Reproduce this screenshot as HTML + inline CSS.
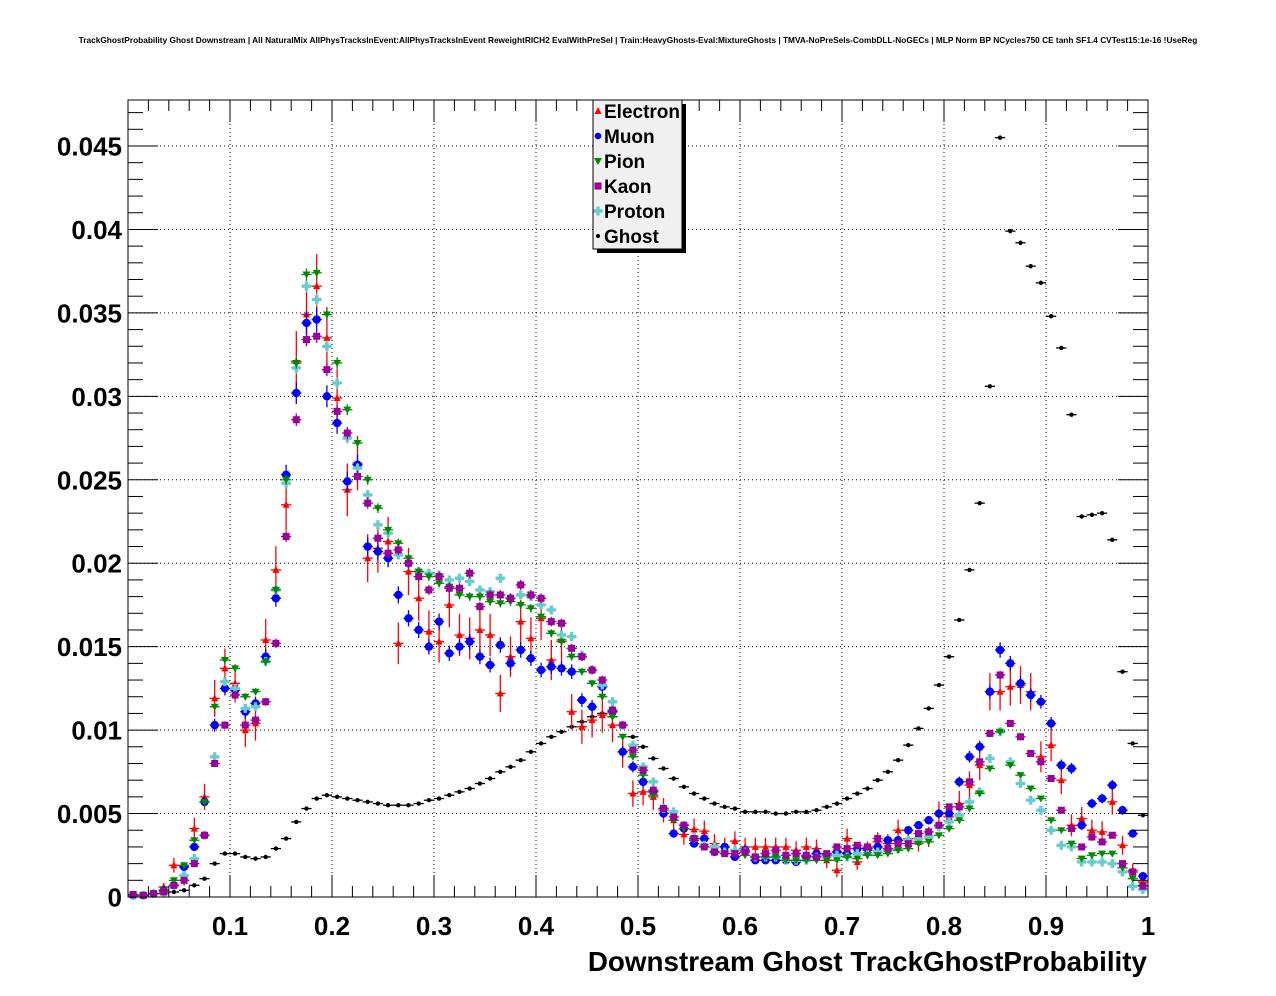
<!DOCTYPE html>
<html><head><meta charset="utf-8"><style>
body{margin:0;background:#fff;width:1276px;height:996px;overflow:hidden}
svg{display:block;font-family:"Liberation Sans",Arial,sans-serif}
</style></head><body>
<svg id="chart" width="1276" height="996" xmlns="http://www.w3.org/2000/svg">
<text x="638" y="43" font-size="8.3" font-weight="bold" text-anchor="middle">TrackGhostProbability Ghost Downstream | All NaturalMix AllPhysTracksInEvent:AllPhysTracksInEvent ReweightRICH2 EvalWithPreSel | Train:HeavyGhosts-Eval:MixtureGhosts | TMVA-NoPreSels-CombDLL-NoGECs | MLP Norm BP NCycles750 CE tanh SF1.4 CVTest15:1e-16 !UseReg</text>
<g id="grid"></g>
<g id="marks"></g>
<rect x="128" y="100" width="1020" height="797" fill="none" stroke="#000" stroke-width="1"/>
<g id="axes"></g>
<text x="1147" y="971" font-size="27.8" font-weight="bold" text-anchor="end">Downstream Ghost TrackGhostProbability</text>
<g id="legend"></g>
</svg>
<script>
const categories = Array.from({length:100},(_,i)=>(i+0.5)/100);
const ghost = [0.05,0.1,0.2,0.2,0.3,0.4,0.7,1.1,2.0,2.6,2.6,2.4,2.3,2.4,2.9,3.5,4.5,5.3,5.9,6.1,6.0,5.9,5.8,5.7,5.6,5.5,5.5,5.5,5.6,5.8,5.9,6.1,6.3,6.5,6.8,7.1,7.5,7.8,8.2,8.7,9.2,9.6,9.9,10.2,10.5,10.8,11.0,10.8,10.3,9.6,9.0,8.3,7.7,7.1,6.6,6.2,5.9,5.6,5.4,5.3,5.1,5.1,5.1,5.0,5.0,5.1,5.1,5.2,5.4,5.6,5.9,6.2,6.5,7.0,7.5,8.2,9.1,10.1,11.3,12.7,14.4,16.6,19.6,23.6,30.6,45.5,39.9,39.2,37.8,36.8,34.8,32.9,28.9,22.8,22.9,23.0,21.4,13.5,9.2,4.9];
const electron = [0.1,0.1,0.2,0.6,1.9,1.0,4.1,6.0,11.9,13.7,12.8,10.0,10.4,15.4,19.6,23.5,32.1,34.9,36.6,33.5,29.9,24.4,26.0,20.3,20.9,21.3,15.2,19.5,17.9,15.9,15.3,17.5,15.7,15.5,16.0,15.7,12.2,14.4,16.5,15.5,16.7,14.2,15.4,11.1,10.2,10.6,10.9,10.3,8.7,6.2,6.3,6.0,5.2,4.6,3.75,4.05,3.95,3.2,3.0,3.35,3.0,3.0,3.0,3.0,3.0,2.8,3.0,2.9,2.2,1.6,3.5,2.1,2.8,3.3,3.2,4.0,3.5,3.3,3.6,5.0,4.8,5.6,6.7,7.9,12.3,12.3,12.6,12.7,12.3,8.4,9.1,7.0,4.3,4.7,4.0,3.9,5.7,3.1,1.6,0.9];
const muon = [0.1,0.1,0.2,0.4,0.7,1.8,3.0,5.7,10.3,12.5,12.4,11.1,11.6,14.4,17.9,25.3,30.2,34.4,34.6,30.0,28.4,24.9,25.9,21.0,20.7,20.3,18.1,16.7,16.0,15.0,16.5,14.6,15.0,15.3,14.4,13.9,15.1,14.0,14.8,14.3,13.6,13.8,13.7,13.5,11.8,11.4,12.6,11.1,8.7,7.8,6.9,6.3,5.0,3.8,4.1,3.2,3.5,2.7,3.0,2.4,2.8,2.2,2.2,2.2,2.2,2.1,2.4,2.6,2.5,2.7,2.6,2.9,2.9,3.0,3.4,3.4,4.0,4.3,4.6,5.0,5.0,6.9,8.4,9.0,12.3,14.8,14.0,12.8,12.1,11.7,10.4,7.9,7.7,4.3,5.6,5.9,6.7,5.2,3.8,1.25];
const pion = [0.1,0.1,0.2,0.4,1.0,1.9,3.4,5.7,11.4,14.2,13.7,12.0,12.3,14.1,18.4,25.0,32.0,37.3,37.4,34.9,32.0,29.2,27.2,25.0,23.3,22.0,21.2,20.3,19.5,19.2,18.8,18.6,18.1,18.0,18.0,17.7,17.6,17.7,17.5,17.3,16.8,15.8,15.3,14.4,13.5,12.8,12.0,10.8,9.6,8.4,7.3,6.1,5.3,4.6,4.1,3.4,3.0,2.7,2.6,2.6,2.5,2.4,2.4,2.4,2.2,2.2,2.2,2.2,2.2,2.2,2.4,2.3,2.5,2.5,2.6,2.8,2.9,3.2,3.3,3.7,4.1,4.6,5.3,6.2,7.7,9.9,7.9,7.3,6.5,5.9,4.6,4.0,3.2,2.3,2.5,2.6,2.6,1.75,1.1,0.7];
const kaon = [0.15,0.1,0.2,0.3,0.7,1.0,2.0,3.7,8.0,10.3,12.1,10.3,10.6,11.7,15.2,21.6,28.6,33.4,33.6,31.6,29.1,27.8,25.2,23.6,21.5,20.6,20.8,20.0,19.2,18.4,19.2,18.5,18.5,19.4,17.4,18.1,18.1,17.9,18.7,18.1,17.9,16.5,16.4,14.9,14.4,13.6,13.0,11.2,10.3,8.8,7.6,6.4,5.3,4.8,4.3,3.5,3.0,2.7,2.6,2.6,2.7,2.4,2.6,2.8,2.5,2.6,2.5,2.4,2.6,3.0,2.9,3.1,3.0,3.5,2.9,3.2,3.2,3.8,3.9,4.3,5.4,5.4,6.9,8.1,9.8,13.3,10.4,9.6,8.6,8.1,7.1,5.2,4.1,3.0,3.6,3.3,3.7,2.0,1.5,0.65];
const proton = [0.1,0.1,0.2,0.3,0.7,1.3,2.3,3.7,8.4,12.9,12.5,11.3,11.4,14.1,18.4,24.8,31.7,36.6,35.8,33.0,30.8,27.5,25.7,24.1,22.3,21.8,20.5,20.0,19.5,19.4,19.3,19.0,19.1,18.9,18.4,18.3,19.1,17.9,18.1,18.0,17.5,17.2,15.7,15.6,14.5,13.6,12.7,11.7,10.3,9.1,7.8,6.9,5.3,5.1,4.3,3.6,3.1,3.0,2.7,2.8,2.7,2.4,2.4,2.4,2.2,2.2,2.2,2.4,2.4,2.5,2.4,2.6,2.6,2.7,2.8,2.9,3.4,3.5,3.6,4.2,4.5,4.9,5.7,6.3,8.3,9.9,8.1,6.8,5.8,5.2,4.0,3.1,3.0,2.1,2.1,2.1,2.0,1.5,0.65,0.45];
const yTickLabels = ["0","0.005","0.01","0.015","0.02","0.025","0.03","0.035","0.04","0.045"];
const xTickLabels = ["0.1","0.2","0.3","0.4","0.5","0.6","0.7","0.8","0.9","1"];
const seriesNames = ["Electron","Muon","Pion","Kaon","Proton","Ghost"];

const X0=128,X1=1148,Y0=897,YTOP=100,YMAX=(897-100)/16689;
const sx=v=>X0+(X1-X0)*v;
const sy=v=>Y0-(Y0-YTOP)*v/YMAX;
const NS="http://www.w3.org/2000/svg";
function mk(tag,attrs,parent){const e=document.createElementNS(NS,tag);for(const k in attrs)e.setAttribute(k,attrs[k]);parent.appendChild(e);return e;}
const grid=document.getElementById('grid'),axes=document.getElementById('axes'),marks=document.getElementById('marks'),legend=document.getElementById('legend');
for(let i=1;i<=9;i++){const x=sx(i/10);const l=mk('line',{x1:x,x2:x,y1:YTOP,y2:Y0,stroke:'#000','stroke-width':1,'stroke-dasharray':'1,3'},grid);

}
for(let i=1;i<yTickLabels.length;i++){const y=sy(+yTickLabels[i]);const l=mk('line',{x1:X0,x2:X1,y1:y,y2:y,stroke:'#000','stroke-width':1,'stroke-dasharray':'1,3'},grid);

}
for(let i=1;i<50;i++){const x=sx(i/50);const len=(i%5==0)?22:11;
mk('line',{x1:x,x2:x,y1:Y0,y2:Y0-len,stroke:'#000'},axes);
mk('line',{x1:x,x2:x,y1:YTOP,y2:YTOP+len,stroke:'#000'},axes);}
xTickLabels.forEach(t=>{const e=mk('text',{x:sx(+t),y:935,'font-size':26,'font-weight':'bold','text-anchor':'middle'},axes);e.textContent=t;

});
for(let v=0.001;v<YMAX;v+=0.001){const y=sy(v);const major=Math.abs(v/0.005-Math.round(v/0.005))<1e-6;const len=major?30:15;
mk('line',{x1:X0,x2:X0+len,y1:y,y2:y,stroke:'#000'},axes);
mk('line',{x1:X1,x2:X1-len,y1:y,y2:y,stroke:'#000'},axes);}
yTickLabels.forEach(t=>{const e=mk('text',{x:122,y:sy(+t)+9.5,'font-size':26,'font-weight':'bold','text-anchor':'end'},axes);e.textContent=t;

});
function marker(type,x,y,c,g,s){
 if(type==='tri')return mk('polygon',{points:`${x},${y-4} ${x-3.5},${y+3} ${x+3.5},${y+3}`,fill:c},g);
 if(type==='tridown')return mk('polygon',{points:`${x},${y+4} ${x-4},${y-3} ${x+4},${y-3}`,fill:c},g);
 if(type==='circ')return mk('circle',{cx:x,cy:y,r:s||4,fill:c},g);
 if(type==='sq')return mk('rect',{x:x-3.5,y:y-3.5,width:7,height:7,fill:c},g);
 if(type==='cross'){return mk('path',{d:`M${x-4.5},${y-1.7}h2.8v-2.8h3.4v2.8h2.8v3.4h-2.8v2.8h-3.4v-2.8h-2.8z`,fill:c},g);}
}
const defs=[
 {name:'ghost',data:ghost,color:'#000',type:'circ',size:2.2,ef:0.02},
 {name:'electron',data:electron,color:'#ff0000',type:'tri',ef:0.32},
 {name:'muon',data:muon,color:'#0000ff',type:'circ',size:4.2,ef:0.12},
 {name:'proton',data:proton,color:'#66cccc',type:'cross',ef:0.06},
 {name:'pion',data:pion,color:'#008800',type:'tridown',ef:0.06},
 {name:'kaon',data:kaon,color:'#990099',type:'sq',ef:0.07}
];
defs.forEach(d=>{
 const g=mk('g',{},marks);
 
 
 d.data.forEach((v,i)=>{
  const cx=sx(categories[i]),cy=sy(v/1000);const hw=(X1-X0)/200;
  const err=d.ef*Math.sqrt(Math.max(v,0))/1000;
  mk('line',{x1:cx-hw,x2:cx+hw,y1:cy,y2:cy,stroke:d.color,'stroke-width':1.3},g);
  mk('line',{x1:cx,x2:cx,y1:sy(v/1000+err),y2:sy(Math.max(0,v/1000-err)),stroke:d.color,'stroke-width':1.3},g);
  const m=marker(d.type,cx,cy,d.color,g,d.size);
  
  
 });
});
mk('rect',{x:597,y:104,width:89,height:149,fill:'#000'},legend);
const box=mk('rect',{x:593,y:100,width:89,height:149,fill:'#f0f0f0',stroke:'#000','stroke-width':1},legend);


const lt=[['tri','#ff0000'],['circ','#0000ff'],['tridown','#008800'],['sq','#990099'],['cross','#66cccc'],['circ','#000']];
seriesNames.forEach((n,i)=>{
 const y=111+i*25;
 const g=mk('g',{},legend);
 
 
 marker(lt[i][0],598,y,lt[i][1],g,i==5?2:3.3);
 const t=mk('text',{x:604,y:y+7,'font-size':19,'font-weight':'bold'},g);t.textContent=n;
});
</script>
</body></html>
